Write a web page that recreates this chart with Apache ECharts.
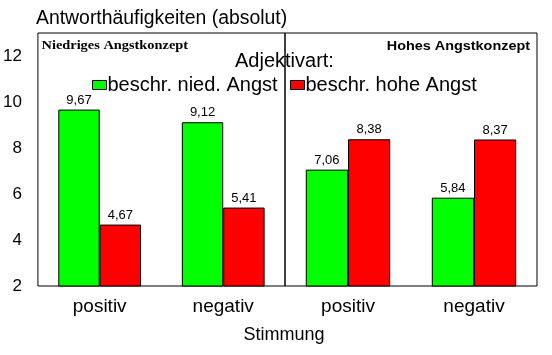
<!DOCTYPE html>
<html><head><meta charset="utf-8">
<script src="https://cdn.jsdelivr.net/npm/echarts@6/dist/echarts.min.js"></script>
<style>html,body{margin:0;padding:0;background:#fff}#c{width:552px;height:355px}</style>
</head><body><div id="c"></div>
<script>
const categories = ['positiv', 'negativ'];
const panels = ['Niedriges Angstkonzept', 'Hohes Angstkonzept'];
const seriesNames = ['beschr. nied. Angst', 'beschr. hohe Angst'];
const niedrigGreen = [9.67, 9.12];
const niedrigRed = [4.67, 5.41];
const hochGreen = [7.06, 5.84];
const hochRed = [8.38, 8.37];
const yTicks = [2, 4, 6, 8, 10, 12];

const F = 'Liberation Sans, Arial, sans-serif';
const chart = echarts.init(document.getElementById('c'));
const fmt = p => p.value.toFixed(2).replace('.', ',');
function bar(name, data, color, idx) {
  return {
    type: 'bar', name, data, xAxisIndex: idx, yAxisIndex: idx,
    barGap: '0%', barCategoryGap: '33%',
    itemStyle: { color, borderColor: '#000', borderWidth: 1 },
    label: { show: true, position: 'top', distance: 3, formatter: fmt,
      fontFamily: F, fontSize: 13, color: '#000' },
    emphasis: { disabled: true }
  };
}
const yBase = {
  type: 'value', min: 2, max: 13, interval: 2,
  splitLine: { show: false }, axisTick: { show: false },
  axisLine: { show: false }
};
const xBase = {
  type: 'category', data: categories,
  axisTick: { show: false }, axisLine: { show: false },
  axisLabel: { fontFamily: F, fontSize: 19, color: '#000', margin: 11 }
};
const legendBase = {
  top: 75, itemWidth: 14, itemHeight: 9, padding: 0,
  icon: 'rect', selectedMode: false,
  itemStyle: { borderColor: '#000', borderWidth: 1 },
  textStyle: { fontFamily: F, fontSize: 20, color: '#000', padding: [0, 0, 0, -4] }
};
chart.setOption({
  animation: false,
  grid: [
    { left: 35, top: 33, width: 250, height: 253, show: true, borderColor: '#000', borderWidth: 1, backgroundColor: 'transparent' },
    { left: 285, top: 33, width: 252, height: 253, show: true, borderColor: '#000', borderWidth: 1, backgroundColor: 'transparent' }
  ],
  xAxis: [
    Object.assign({ gridIndex: 0 }, xBase),
    Object.assign({ gridIndex: 1 }, xBase)
  ],
  yAxis: [
    Object.assign({ gridIndex: 0, axisLabel: { fontFamily: F, fontSize: 17, color: '#000', margin: 16,
      showMaxLabel: false, formatter: v => yTicks.includes(v) ? String(v) : '' } }, yBase),
    Object.assign({ gridIndex: 1, axisLabel: { show: false } }, yBase)
  ],
  legend: [
    Object.assign({ left: 92, data: [seriesNames[0]] }, legendBase),
    Object.assign({ left: 290, data: [seriesNames[1]] }, legendBase)
  ],
  graphic: [
    { type: 'text', x: 36, y: 9, style: { text: 'Antworthäufigkeiten (absolut)', font: '19.4px ' + F, fill: '#000' } },
    { type: 'text', x: 235, y: 51.5, style: { text: 'Adjektivart:', font: '20px ' + F, fill: '#000' } },
    { type: 'text', x: 41.5, y: 40, scaleX: 1.25, style: { text: panels[0], font: 'bold 11.5px Liberation Serif, Times New Roman, serif', fill: '#000' } },
    { type: 'text', x: 530, y: 40.5, scaleX: 1.2, style: { text: panels[1], align: 'right', font: 'bold 12px ' + F, fill: '#000' } },
    { type: 'text', x: 284, y: 326, style: { text: 'Stimmung', align: 'center', font: '18px ' + F, fill: '#000' } }
  ],
  series: [
    bar(seriesNames[0], niedrigGreen, '#00ff00', 0),
    bar(seriesNames[1], niedrigRed, '#ff0000', 0),
    bar(seriesNames[0], hochGreen, '#00ff00', 1),
    bar(seriesNames[1], hochRed, '#ff0000', 1)
  ]
});
</script></body></html>
